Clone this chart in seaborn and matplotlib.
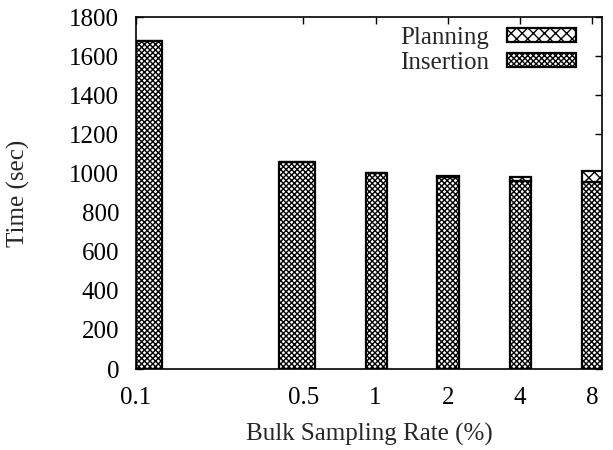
import numpy as np
import matplotlib
matplotlib.use("Agg")
import matplotlib.pyplot as plt
import seaborn as sns
from matplotlib.ticker import FixedLocator, NullLocator

# ---- data ----
rates = [0.1, 0.5, 1, 2, 4, 8]
rate_labels = ["0.1", "0.5", "1", "2", "4", "8"]
insertion = [1675, 1056, 1000, 982, 961, 957]
planning = [3, 4, 4, 5, 20, 58]
series_names = ["Planning", "Insertion"]

# ---- bar geometry (log2 offsets of left/right edges, style only) ----
left_off = [0.0, -0.336, -0.13, -0.145, -0.14, -0.145]
right_off = [0.36, 0.165, 0.16, 0.16, 0.16, 0.16]

sns.set_theme(style="ticks")
plt.rcParams["font.family"] = ["Liberation Serif", "DejaVu Serif"]
plt.rcParams["hatch.linewidth"] = 1.0
plt.rcParams["axes.linewidth"] = 1.2

FS = 18

fig = plt.figure(figsize=(6.13, 4.5), dpi=100)
ax = fig.add_axes([136/613, 1 - 369/450, (602-136)/613, (369-17)/450])

lefts = [r * 2**lo for r, lo in zip(rates, left_off)]
widths = [r * 2**hi - l for r, hi, l in zip(rates, right_off, lefts)]

ax.bar(lefts, insertion, width=widths, align="edge", color="white",
       edgecolor="black", hatch="xxxxxx", linewidth=1.6, label=series_names[1])
ax.bar(lefts, planning, width=widths, bottom=insertion, align="edge",
       color="white", edgecolor="black", hatch="xxx", linewidth=1.6,
       label=series_names[0])

ax.set_xscale("log")
ax.set_xlim(0.1, 8 * 2**(10/72))
ax.set_ylim(0, 1800)
ax.xaxis.set_major_locator(FixedLocator(rates))
ax.xaxis.set_minor_locator(NullLocator())
ax.set_xticklabels(rate_labels)
ax.set_yticks(np.arange(0, 1801, 200))

ax.tick_params(axis="both", which="both", direction="in", length=5, width=1,
               top=True, right=True, labelsize=FS, colors="black")
ax.tick_params(axis="x", pad=13)
ax.tick_params(axis="y", pad=12)

ax.set_xlabel("Bulk Sampling Rate (%)", fontsize=FS, labelpad=10)
ax.set_ylabel("Time (sec)", fontsize=FS, labelpad=28)

handles, labels = ax.get_legend_handles_labels()
order = [labels.index(n) for n in series_names]
ax.legend([handles[i] for i in order], [labels[i] for i in order],
          loc="upper right", frameon=False, markerfirst=False, fontsize=FS,
          handlelength=2.75, handleheight=0.5, handletextpad=0.7,
          labelspacing=0.12, borderaxespad=0.0, bbox_to_anchor=(0.965, 1.0))

for s in ax.spines.values():
    s.set_color("black")

fig.savefig("out.png", dpi=100)
